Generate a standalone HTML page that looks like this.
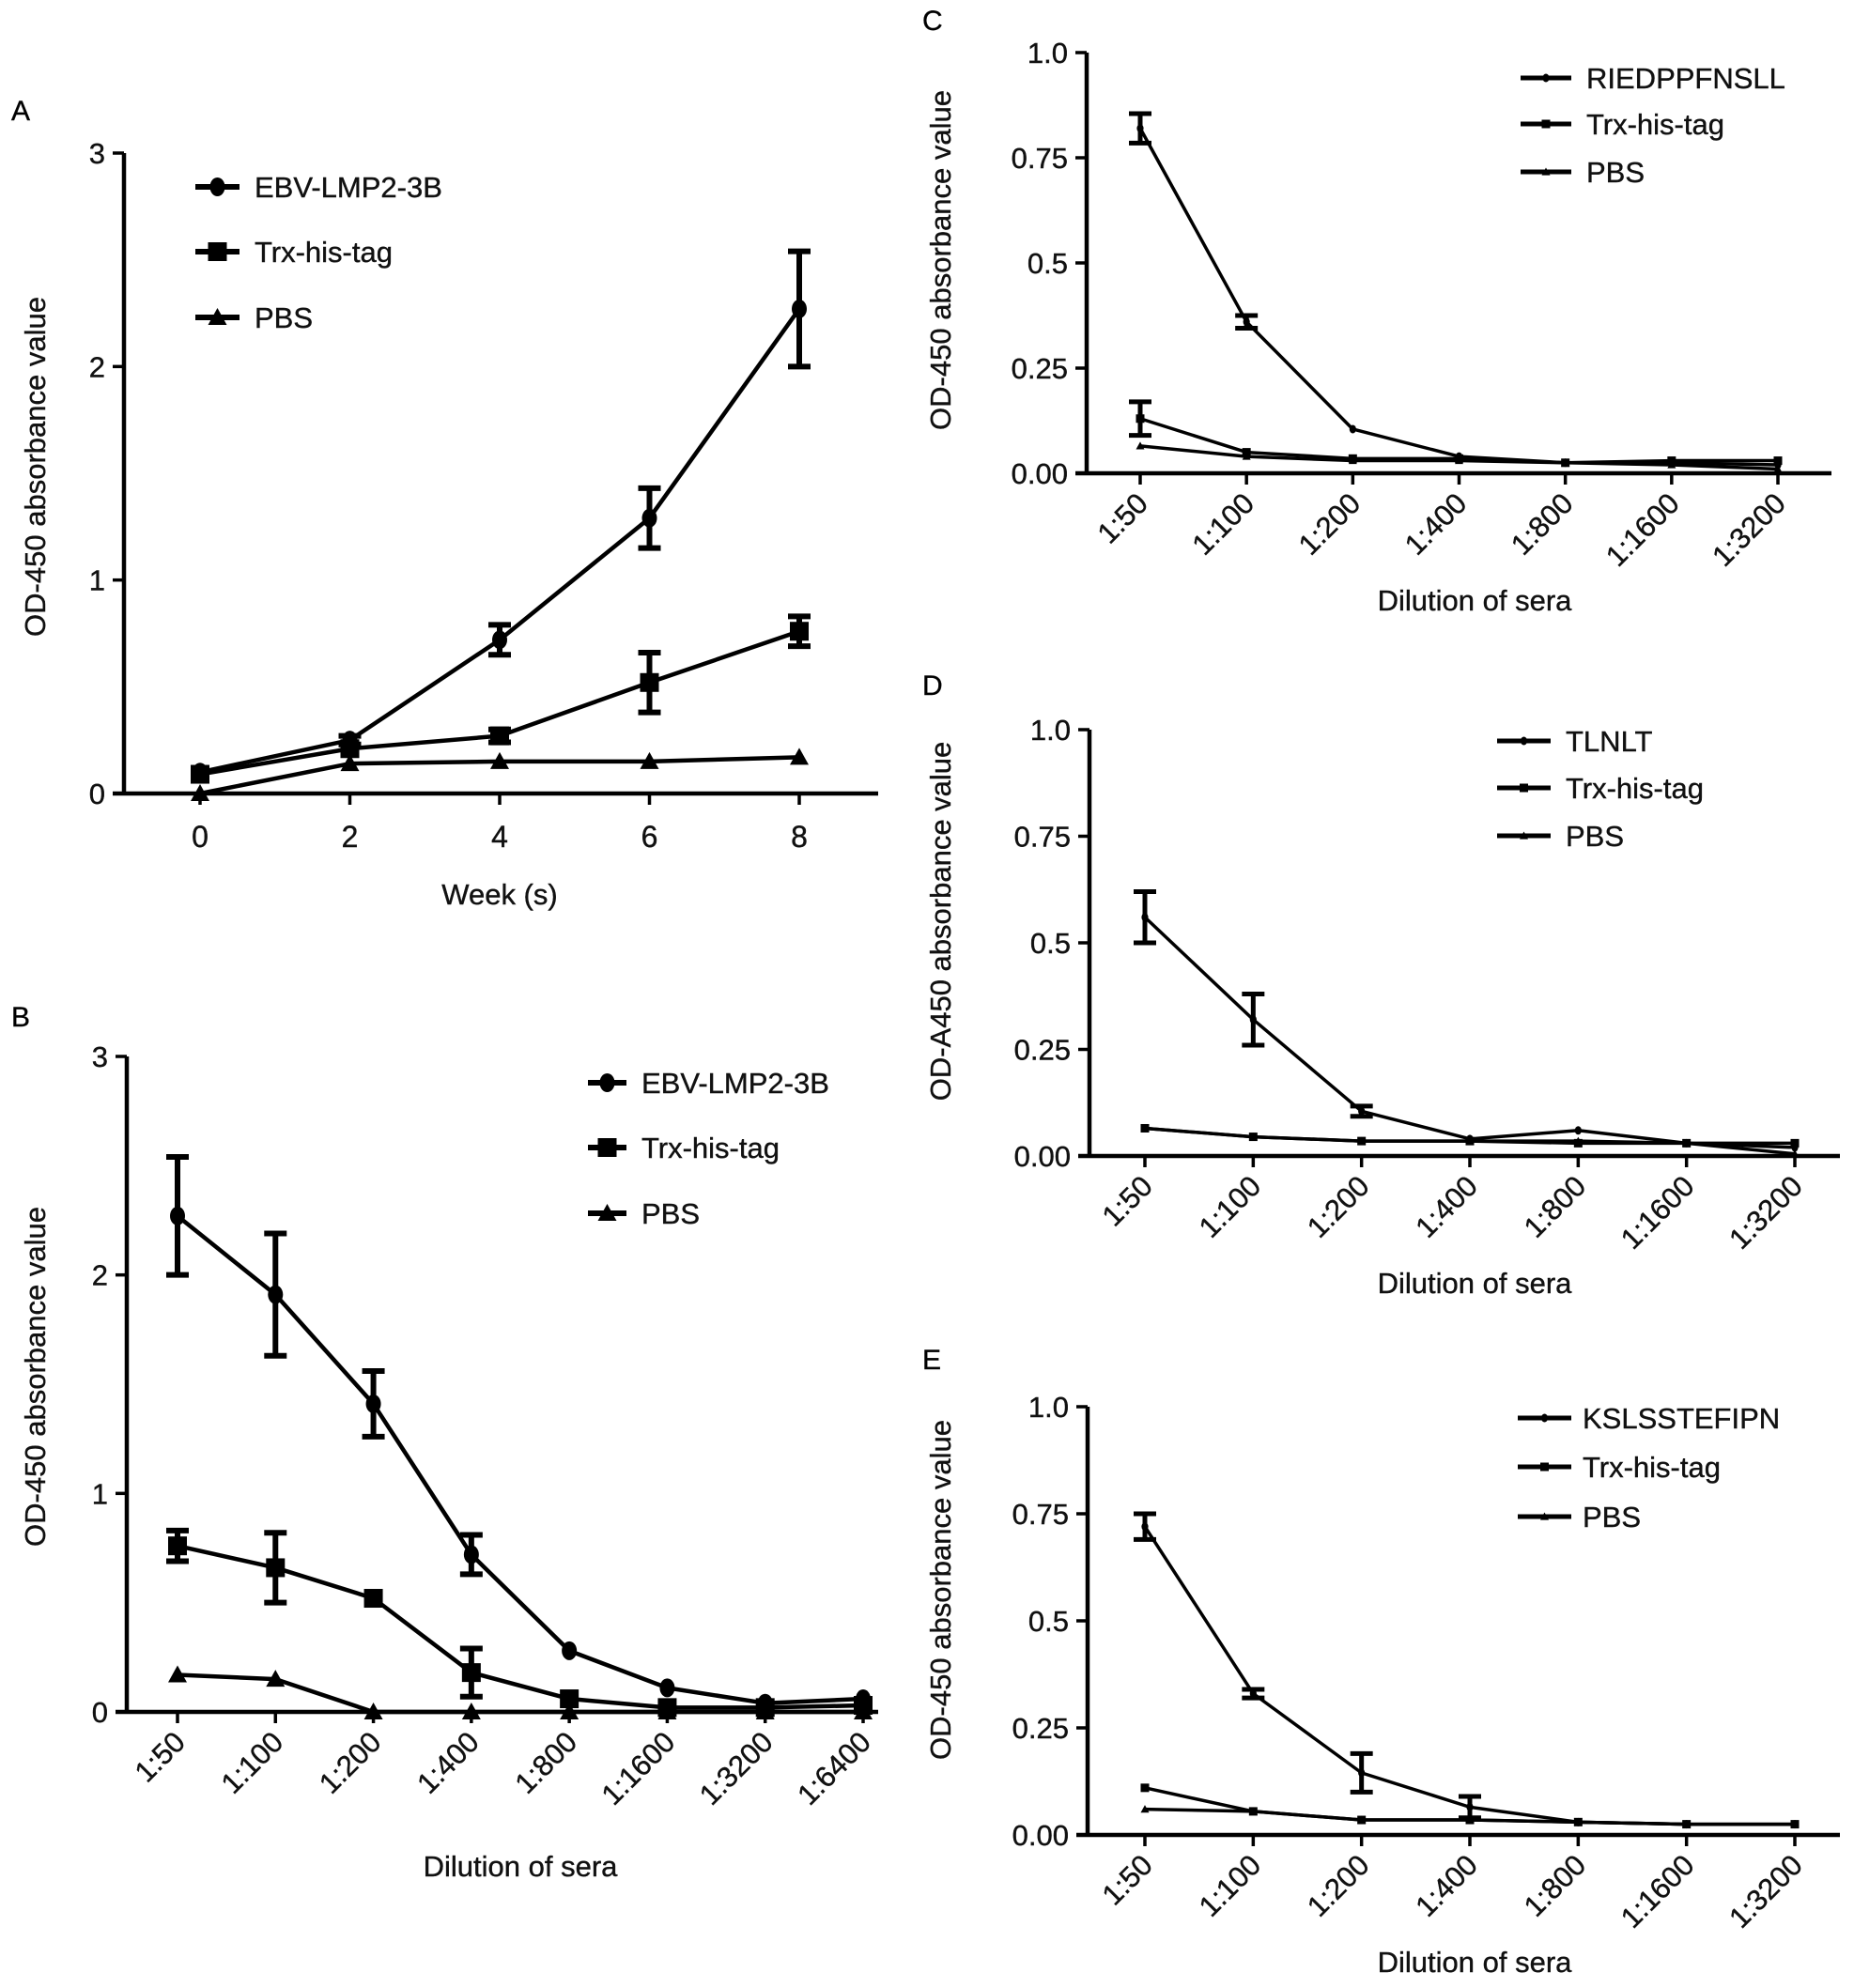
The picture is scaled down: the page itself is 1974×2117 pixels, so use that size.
<!DOCTYPE html>
<html><head><meta charset="utf-8"><style>
html,body{margin:0;padding:0;background:#fff;}
svg{display:block;font-family:"Liberation Sans",Arial,sans-serif;}
text{stroke:#111;stroke-width:0.4px;}
</style></head><body>
<svg id="fig" width="1974" height="2117" viewBox="0 0 1974 2117" xmlns="http://www.w3.org/2000/svg"></svg>
<script>
// Panel A data
const aCategories = ["0","2","4","6","8"];
const aEbv = [0.1,0.25,0.72,1.29,2.27];
const aEbvErr = [0,0.02,0.07,0.14,0.27];
const aTrx = [0.09,0.21,0.27,0.52,0.76];
const aTrxErr = [0,0,0.03,0.14,0.07];
const aPbs = [0.0,0.14,0.15,0.15,0.17];
const aPbsErr = [0,0,0,0,0];
const abTicks = ["0","1","2","3"];
// Panel B data
const bCategories = ["1:50","1:100","1:200","1:400","1:800","1:1600","1:3200","1:6400"];
const bEbv = [2.27,1.91,1.41,0.72,0.28,0.11,0.04,0.06];
const bEbvErr = [0.27,0.28,0.15,0.09,0,0,0,0];
const bTrx = [0.76,0.66,0.52,0.18,0.06,0.02,0.02,0.03];
const bTrxErr = [0.07,0.16,0,0.11,0,0,0,0];
const bPbs = [0.17,0.15,0.0,0.0,0.0,0.0,0.0,0.0];
const bPbsErr = [0,0,0,0,0,0,0,0];
// Panels C, D, E
const cdeCategories = ["1:50","1:100","1:200","1:400","1:800","1:1600","1:3200"];
const cdeTicks = ["0.00","0.25","0.5","0.75","1.0"];
const cPep = [0.82,0.36,0.105,0.04,0.025,0.025,0.02];
const cPepErr = [0.035,0.015,0,0,0,0,0];
const cTrx = [0.13,0.05,0.035,0.035,0.025,0.03,0.03];
const cTrxErr = [0.04,0,0,0,0,0,0];
const cPbs = [0.065,0.04,0.03,0.03,0.025,0.02,0.01];
const dPep = [0.56,0.32,0.105,0.04,0.06,0.03,0.02];
const dPepErr = [0.06,0.06,0.012,0,0,0,0];
const dTrx = [0.065,0.045,0.035,0.035,0.03,0.03,0.03];
const dPbs = [0.065,0.045,0.035,0.035,0.035,0.03,0.005];
const ePep = [0.72,0.33,0.145,0.065,0.03,0.025,0.025];
const ePepErr = [0.03,0.01,0.045,0.025,0,0,0];
const eTrx = [0.11,0.055,0.035,0.035,0.03,0.025,0.025];
const ePbs = [0.06,0.055,0.035,0.035,0.03,0.025,0.025];
const zeros7 = [0,0,0,0,0,0,0];

const NS="http://www.w3.org/2000/svg";
const svg=document.getElementById('fig');
function mk(tag,attrs,parent,txt){const e=document.createElementNS(NS,tag);for(const k in attrs)e.setAttribute(k,attrs[k]);if(txt!==undefined)e.textContent=txt;(parent||svg).appendChild(e);return e;}

function marker(g,shape,x,y,sz){
  if(shape==='circle'){mk('ellipse',{cx:x,cy:y,rx:sz*0.8,ry:sz,fill:'#000'},g);}
  else if(shape==='square'){mk('rect',{x:x-sz,y:y-sz,width:2*sz,height:2*sz,fill:'#000'},g);}
  else {mk('polygon',{points:`${x},${y-sz} ${x+sz},${y+sz*0.8} ${x-sz},${y+sz*0.8}`,fill:'#000'},g);}
}

function panel(p){
  const g=mk('g',{});
  
  
  const n=p.cats.length, tmax=p.ymax;
  const X=i=>p.x0+(p.x1-p.x0)*i/(n-1);
  const Y=v=>p.y0-(p.y0-p.ytop)*v/tmax;
  const lbl=mk('text',{x:p.lx,y:p.ly,'font-size':30,fill:'#000'},g,p.letter);
  
  
  const ya=mk('line',{x1:p.ax,y1:p.ytop,x2:p.ax,y2:p.y0,stroke:'#000','stroke-width':4.5},g);
  
  
  const xa=mk('line',{x1:p.axL,y1:p.y0,x2:p.axR,y2:p.y0,stroke:'#000','stroke-width':4.5},g);
  
  
  p.ticks.forEach((t,i)=>{
    const v=tmax*i/(p.ticks.length-1), y=Y(v);
    mk('line',{x1:p.ax-12,y1:y,x2:p.ax,y2:y,stroke:'#000','stroke-width':3.5},g);
    const tl=mk('text',{x:p.ax-20,y:y+11,'font-size':p.fs,'text-anchor':'end',fill:'#111'},g,t);
    
    
  });
  p.cats.forEach((c,i)=>{
    const x=X(i);
    mk('line',{x1:x,y1:p.y0,x2:x,y2:p.y0+12,stroke:'#000','stroke-width':3.5},g);
    let tl;
    if(p.rot){
      tl=mk('text',{x:x+10,y:p.y0+34,'font-size':p.fs,'text-anchor':'end',fill:'#111',transform:`rotate(-45 ${x+10} ${p.y0+34})`},g,c);
    } else {
      tl=mk('text',{x:x,y:p.y0+57,'font-size':p.fs+1,'text-anchor':'middle',fill:'#111'},g,c);
    }
    
    
  });
  const xt=mk('text',{x:p.xtx,y:p.xty,'font-size':31,'text-anchor':'middle',fill:'#111'},g,p.xtitle);
  
  
  const yt=mk('text',{x:0,y:0,'font-size':31,'text-anchor':'middle',fill:'#111',transform:`translate(${p.ytx} ${p.yty}) rotate(-90)`},g,p.ytitle);
  
  
  p.series.forEach((s,si)=>{
    const sg=mk('g',{},g);
    
    
    const pts=s.vals.map((v,i)=>`${X(i)},${Y(v)}`).join(' ');
    const pl=mk('polyline',{points:pts,fill:'none',stroke:'#000','stroke-width':p.lw,'stroke-linejoin':'round'},sg);
    
    
    s.vals.forEach((v,i)=>{
      const e=s.err[i];
      if(e>0){
        const eb=mk('path',{d:`M${X(i)},${Y(v-e)}V${Y(v+e)}M${X(i)-12},${Y(v-e)}h24M${X(i)-12},${Y(v+e)}h24`,stroke:'#000','stroke-width':p.lw+1.5,fill:'none'},sg);
        
        
      }
      marker(sg,s.shape,X(i),Y(v),p.ms);
    });
    const ly=p.legY[si];
    const le=mk('g',{},g);
    
    
    mk('line',{x1:p.legX0,y1:ly,x2:p.legX1,y2:ly,stroke:'#000','stroke-width':p.lw+1.5},le);
    marker(le,s.shape,(p.legX0+p.legX1)/2,ly,p.ms);
    mk('text',{x:p.legTx,y:ly+11,'font-size':31,fill:'#111'},le,s.label);
  });
}

panel({name:'panel-a',letter:'A',lx:12,ly:128,cats:aCategories,ticks:abTicks,ymax:3,
  ax:132,ytop:163,y0:845,x0:213,x1:851,axL:120,axR:935,rot:false,fs:31,lw:4.5,ms:10,
  xtitle:'Week (s)',xtx:532,xty:963,ytitle:'OD-450 absorbance value',ytx:48,yty:497,
  legX0:208,legX1:255,legTx:271,legY:[199,268,338],
  series:[{key:'ebv',label:'EBV-LMP2-3B',vals:aEbv,err:aEbvErr,shape:'circle'},
          {key:'trx',label:'Trx-his-tag',vals:aTrx,err:aTrxErr,shape:'square'},
          {key:'pbs',label:'PBS',vals:aPbs,err:aPbsErr,shape:'triangle'}]});
panel({name:'panel-b',letter:'B',lx:12,ly:1093,cats:bCategories,ticks:abTicks,ymax:3,
  ax:135,ytop:1125,y0:1823,x0:189,x1:919,axL:123,axR:935,rot:true,fs:31,lw:4.5,ms:10,
  xtitle:'Dilution of sera',xtx:554,xty:1998,ytitle:'OD-450 absorbance value',ytx:48,yty:1466,
  legX0:626,legX1:667,legTx:683,legY:[1153,1222,1292],
  series:[{key:'ebv',label:'EBV-LMP2-3B',vals:bEbv,err:bEbvErr,shape:'circle'},
          {key:'trx',label:'Trx-his-tag',vals:bTrx,err:bTrxErr,shape:'square'},
          {key:'pbs',label:'PBS',vals:bPbs,err:bPbsErr,shape:'triangle'}]});
panel({name:'panel-c',letter:'C',lx:982,ly:32,cats:cdeCategories,ticks:cdeTicks,ymax:1,
  ax:1157,ytop:56,y0:504,x0:1214,x1:1893,axL:1145,axR:1950,rot:true,fs:31,lw:3.5,ms:4.5,
  xtitle:'Dilution of sera',xtx:1570,xty:650,ytitle:'OD-450 absorbance value',ytx:1012,yty:277,
  legX0:1619,legX1:1673,legTx:1689,legY:[83,132,183],
  series:[{key:'pep',label:'RIEDPPFNSLL',vals:cPep,err:cPepErr,shape:'circle'},
          {key:'trx',label:'Trx-his-tag',vals:cTrx,err:cTrxErr,shape:'square'},
          {key:'pbs',label:'PBS',vals:cPbs,err:zeros7,shape:'triangle'}]});
panel({name:'panel-d',letter:'D',lx:982,ly:740,cats:cdeCategories,ticks:cdeTicks,ymax:1,
  ax:1160,ytop:777,y0:1231,x0:1219,x1:1911,axL:1148,axR:1959,rot:true,fs:31,lw:3.5,ms:4.5,
  xtitle:'Dilution of sera',xtx:1570,xty:1377,ytitle:'OD-A450 absorbance value',ytx:1012,yty:981,
  legX0:1594,legX1:1651,legTx:1667,legY:[789,839,890],
  series:[{key:'pep',label:'TLNLT',vals:dPep,err:dPepErr,shape:'circle'},
          {key:'trx',label:'Trx-his-tag',vals:dTrx,err:zeros7,shape:'square'},
          {key:'pbs',label:'PBS',vals:dPbs,err:zeros7,shape:'triangle'}]});
panel({name:'panel-e',letter:'E',lx:982,ly:1458,cats:cdeCategories,ticks:cdeTicks,ymax:1,
  ax:1158,ytop:1498,y0:1954,x0:1219,x1:1911,axL:1146,axR:1959,rot:true,fs:31,lw:3.5,ms:4.5,
  xtitle:'Dilution of sera',xtx:1570,xty:2100,ytitle:'OD-450 absorbance value',ytx:1012,yty:1693,
  legX0:1616,legX1:1673,legTx:1685,legY:[1510,1562,1615],
  series:[{key:'pep',label:'KSLSSTEFIPN',vals:ePep,err:ePepErr,shape:'circle'},
          {key:'trx',label:'Trx-his-tag',vals:eTrx,err:zeros7,shape:'square'},
          {key:'pbs',label:'PBS',vals:ePbs,err:zeros7,shape:'triangle'}]});
</script>
</body></html>
